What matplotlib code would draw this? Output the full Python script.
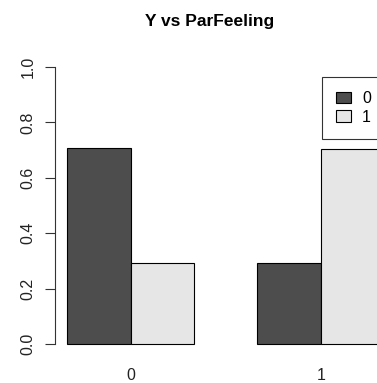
import numpy as np
import matplotlib
matplotlib.use("Agg")
import matplotlib.pyplot as plt
from matplotlib.patches import Patch

plt.rcParams['font.family'] = ['Liberation Sans', 'DejaVu Sans']

# data: proportion of Y within each ParFeeling group
groups = ["0", "1"]
y_levels = ["0", "1"]
y0_share = [0.707, 0.294]   # Y = 0
y1_share = [0.293, 0.706]   # Y = 1
colors = ["#4d4d4d", "#e6e6e6"]

fig = plt.figure(figsize=(3.77, 3.83), dpi=100)
ax = fig.add_axes([0.1454, 0.0728, 0.907, 0.781])

# R-style beside barplot: width 1, space 1 between groups
n = len(groups)
starts = np.arange(n) * 3
ax.bar(starts, y0_share, width=1, align="edge", color=colors[0],
       edgecolor="black", linewidth=0.8)
ax.bar(starts + 1, y1_share, width=1, align="edge", color=colors[1],
       edgecolor="black", linewidth=0.8)

ax.set_xlim(-0.2, 3 * n - 1 + 0.2)
ax.set_ylim(-0.04, 1.04)

for s in ["top", "right", "bottom"]:
    ax.spines[s].set_visible(False)
ax.spines["left"].set_bounds(0, 1)
ax.spines["left"].set_linewidth(0.8)
ax.spines["left"].set_color("#333333")

ax.set_yticks(np.arange(0, 1.01, 0.2))
ax.set_yticklabels([f"{v:.1f}" for v in np.arange(0, 1.01, 0.2)],
                   rotation=90, va="center", fontsize=11.5, color="#222222")
ax.tick_params(axis="y", length=7, width=0.8, color="#333333", pad=7)

ax.set_xticks(starts + 1)
ax.set_xticklabels(groups, fontsize=11.5, color="#222222")
ax.tick_params(axis="x", length=0, pad=9)

fig.text(0.557, 0.943, "Y vs ParFeeling", ha="center", va="center",
         fontsize=12.5, fontweight="bold")

handles = [Patch(facecolor=c, edgecolor="black", linewidth=0.8) for c in colors]
leg = ax.legend(handles, y_levels, loc="upper left",
                bbox_to_anchor=(322 / 377, 1 - 77 / 383),
                bbox_transform=fig.transFigure, fontsize=11.5,
                frameon=True, fancybox=False, edgecolor="black",
                borderpad=0.9, labelspacing=0.2, handlelength=0.9,
                handleheight=0.7, handletextpad=0.7, borderaxespad=0)
leg.get_frame().set_linewidth(0.8)

fig.savefig("out.png", dpi=100)
